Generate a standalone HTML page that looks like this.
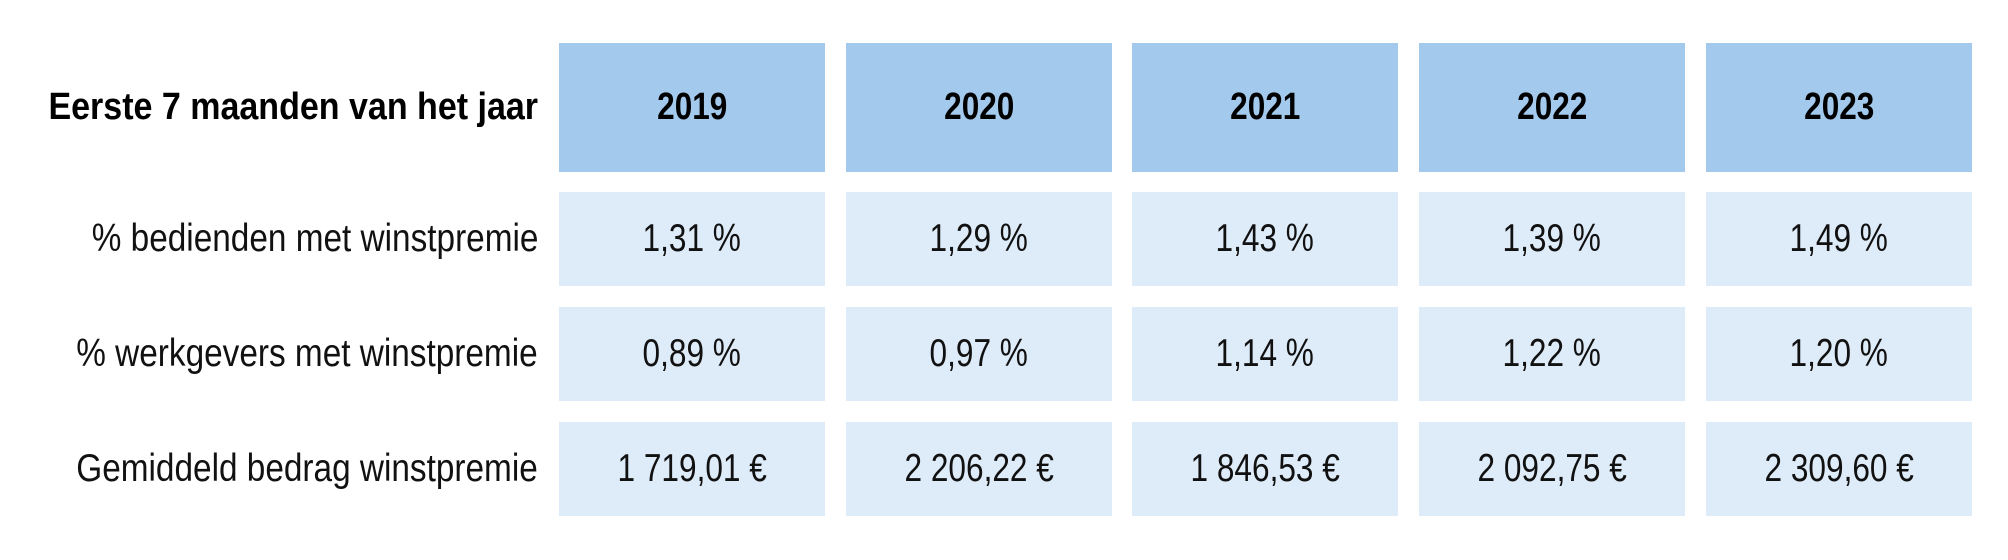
<!DOCTYPE html>
<html><head><meta charset="utf-8"><style>
body{margin:0;width:2008px;height:560px;background:#fff;position:relative;overflow:hidden;font-family:"Liberation Sans",sans-serif;color:#111}
.c{position:absolute;width:266px;display:flex;align-items:center;justify-content:center;font-size:39px}
.c span{display:inline-block;transform:scaleX(0.81);white-space:nowrap}
.h{background:#a3c9ec;font-weight:bold;font-size:38px;top:43px;height:129px;color:#000}
.h span{transform:scaleX(0.83)}
.b{background:#deebf8}
.l{position:absolute;right:1470px;font-size:39px;white-space:nowrap;display:flex;align-items:center;justify-content:flex-end}
.l span{display:inline-block;transform:scaleX(0.855);transform-origin:right center}
</style></head><body>
<div class="l" style="top:43px;height:129px;font-weight:bold;font-size:38px;color:#000"><span style="transform:scaleX(0.895)">Eerste 7 maanden van het jaar</span></div>
<div class="l" style="top:192px;height:94px"><span>% bedienden met winstpremie</span></div>
<div class="l" style="top:307px;height:94px"><span>% werkgevers met winstpremie</span></div>
<div class="l" style="top:422px;height:94px"><span>Gemiddeld bedrag winstpremie</span></div>

<div class="c h" style="left:559px"><span>2019</span></div>
<div class="c h" style="left:846px"><span>2020</span></div>
<div class="c h" style="left:1132px"><span>2021</span></div>
<div class="c h" style="left:1419px"><span>2022</span></div>
<div class="c h" style="left:1706px"><span>2023</span></div>

<div class="c b" style="left:559px;top:192px;height:94px"><span>1,31 %</span></div>
<div class="c b" style="left:846px;top:192px;height:94px"><span>1,29 %</span></div>
<div class="c b" style="left:1132px;top:192px;height:94px"><span>1,43 %</span></div>
<div class="c b" style="left:1419px;top:192px;height:94px"><span>1,39 %</span></div>
<div class="c b" style="left:1706px;top:192px;height:94px"><span>1,49 %</span></div>

<div class="c b" style="left:559px;top:307px;height:94px"><span>0,89 %</span></div>
<div class="c b" style="left:846px;top:307px;height:94px"><span>0,97 %</span></div>
<div class="c b" style="left:1132px;top:307px;height:94px"><span>1,14 %</span></div>
<div class="c b" style="left:1419px;top:307px;height:94px"><span>1,22 %</span></div>
<div class="c b" style="left:1706px;top:307px;height:94px"><span>1,20 %</span></div>

<div class="c b" style="left:559px;top:422px;height:94px"><span>1 719,01 €</span></div>
<div class="c b" style="left:846px;top:422px;height:94px"><span>2 206,22 €</span></div>
<div class="c b" style="left:1132px;top:422px;height:94px"><span>1 846,53 €</span></div>
<div class="c b" style="left:1419px;top:422px;height:94px"><span>2 092,75 €</span></div>
<div class="c b" style="left:1706px;top:422px;height:94px"><span>2 309,60 €</span></div>
</body></html>
